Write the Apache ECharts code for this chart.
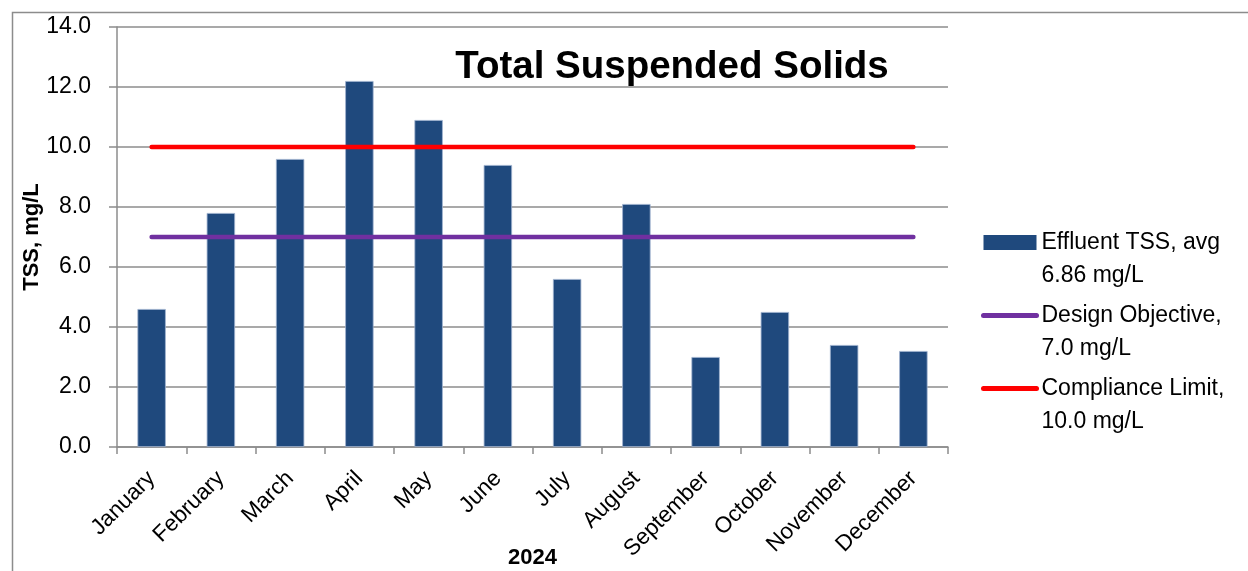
<!DOCTYPE html>
<html>
<head>
<meta charset="utf-8">
<script src="https://cdn.jsdelivr.net/npm/echarts@6/dist/echarts.min.js"></script>
<style>
html,body{margin:0;padding:0;background:#fff;}
#chart{width:1248px;height:571px;}
</style>
</head>
<body>
<div id="chart"></div>
<script>
const months = ['January','February','March','April','May','June','July','August','September','October','November','December'];
const tssValues = [4.6, 7.8, 9.6, 12.2, 10.9, 9.4, 5.6, 8.1, 3.0, 4.5, 3.4, 3.2];
const designObjective = [7.0, 7.0, 7.0, 7.0, 7.0, 7.0, 7.0, 7.0, 7.0, 7.0, 7.0, 7.0];
const complianceLimit = [10.0, 10.0, 10.0, 10.0, 10.0, 10.0, 10.0, 10.0, 10.0, 10.0, 10.0, 10.0];
const seriesNames = ['Effluent TSS, avg\n6.86 mg/L', 'Design Objective,\n7.0 mg/L', 'Compliance Limit,\n10.0 mg/L'];
const titleText = 'Total Suspended Solids';
const yAxisName = 'TSS, mg/L';
const xAxisName = '2024';

const FONT = 'Liberation Sans';
const chart = echarts.init(document.getElementById('chart'), null, {renderer:'canvas'});
chart.setOption({
  backgroundColor: '#ffffff',
  animation: false,
  textStyle: {fontFamily: FONT, color: '#000'},
  title: {
    text: titleText,
    left: 667, top: 43, textAlign: 'center',
    textStyle: {fontFamily: FONT, fontWeight: 'bold', fontSize: 38.5, color: '#000'}
  },
  graphic: [{
    type: 'rect', left: 10, top: 10, z: -1, silent: true,
    shape: {width: 1300, height: 700},
    style: {fill: 'none', stroke: '#8c8c8c', lineWidth: 1.5}
  }],
  legend: {
    orient: 'vertical', left: 981, top: 193, padding: 0,
    itemWidth: 53, itemHeight: 15, itemGap: -26,
    data: [
      {name: seriesNames[0], icon: 'rect', itemStyle: {borderWidth: 0}},
      {name: seriesNames[1], itemStyle: {opacity: 0}, lineStyle: {width: 5, cap: 'round', color: '#7030A0'}},
      {name: seriesNames[2], itemStyle: {opacity: 0}, lineStyle: {width: 5, cap: 'round', color: '#FF0000'}}
    ],
    formatter: name => '\n' + name,
    textStyle: {fontFamily: FONT, fontSize: 23, color: '#000', lineHeight: 33},
    selectedMode: false
  },
  grid: {left: 117, right: 300, top: 27, bottom: 124, containLabel: false, outerBoundsMode: 'none'},
  xAxis: {
    type: 'category', data: months, boundaryGap: true,
    name: xAxisName, nameLocation: 'middle', nameGap: 100, nameMoveOverlap: false,
    nameTextStyle: {fontFamily: FONT, fontWeight: 'bold', fontSize: 22, color: '#000'},
    axisLine: {lineStyle: {color: '#8c8c8c', width: 1.5}},
    axisTick: {show: true, length: 7, lineStyle: {color: '#8c8c8c', width: 1.5}},
    axisLabel: {rotate: 45, fontSize: 22.5, color: '#000', margin: 28, fontFamily: FONT, interval: 0}
  },
  yAxis: {
    type: 'value', min: 0, max: 14, interval: 2,
    name: yAxisName, nameLocation: 'middle', nameGap: 74, nameRotate: 90, nameMoveOverlap: false,
    nameTextStyle: {fontFamily: FONT, fontWeight: 'bold', fontSize: 22, color: '#000'},
    axisLine: {show: true, lineStyle: {color: '#8c8c8c', width: 1.5}},
    axisTick: {show: true, length: 8, lineStyle: {color: '#8c8c8c', width: 1.5}},
    splitLine: {lineStyle: {color: '#8c8c8c', width: 1.5}},
    axisLabel: {fontSize: 23, color: '#000', margin: 26, fontFamily: FONT, formatter: v => v.toFixed(1)}
  },
  series: [
    {
      name: seriesNames[0], type: 'bar', data: tssValues, barCategoryGap: '59%',
      itemStyle: {color: '#1F497D', borderColor: '#9fb3cf', borderWidth: 0.8}, z: 2
    },
    {
      name: seriesNames[1], type: 'line', data: designObjective, symbol: 'none',
      lineStyle: {color: '#7030A0', width: 4.5, cap: 'round'}, itemStyle: {color: '#7030A0'}, z: 3
    },
    {
      name: seriesNames[2], type: 'line', data: complianceLimit, symbol: 'none',
      lineStyle: {color: '#FF0000', width: 4.5, cap: 'round'}, itemStyle: {color: '#FF0000'}, z: 3
    }
  ]
});
</script>
</body>
</html>
